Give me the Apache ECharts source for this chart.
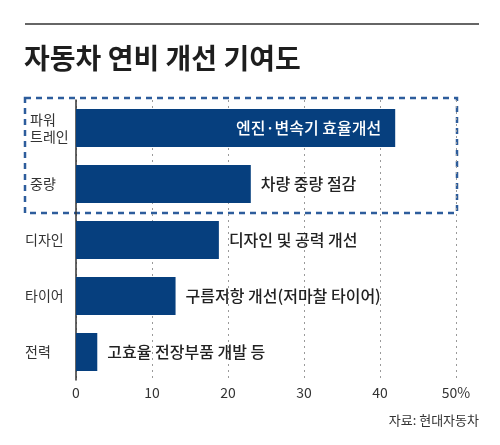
<!DOCTYPE html>
<html>
<head>
<meta charset="utf-8">
<script src="https://cdn.jsdelivr.net/npm/echarts@6/dist/echarts.min.js"></script>
<style>
  html, body { margin: 0; padding: 0; background: #fff; }
  #chart { width: 500px; height: 445px; }
</style>
</head>
<body>
<div id="chart"></div>
<script>
// 자동차 연비 개선 기여도 (%)
const categories = ['파워\n트레인', '중량', '디자인', '타이어', '전력']
const values = [42, 23, 18.8, 13.1, 2.8]
const descs = ['엔진·변속기 효율개선', '차량 중량 절감', '디자인 및 공력 개선', '구름저항 개선(저마찰 타이어)', '고효율 전장부품 개발 등']
const xTicks = [0, 10, 20, 30, 40, 50]

const font = '"Noto Sans CJK KR", "Noto Sans", sans-serif'
const navy = '#063f7e'

let myChart = echarts.init(document.getElementById('chart'))

let option = {
  animation: false,
  textStyle: { fontFamily: font },
  grid: { left: 76, right: 44, top: 100, bottom: 65 },
  xAxis: {
    type: 'value',
    min: xTicks[0],
    max: xTicks[xTicks.length - 1],
    interval: 10,
    axisLine: { show: false },
    axisTick: { show: false },
    splitLine: { lineStyle: { color: '#9a9a9a', type: [2, 4], width: 1 } },
    axisLabel: {
      margin: 6,
      fontSize: 14,
      color: '#333',
      fontFamily: font,
      formatter: v => v === xTicks[xTicks.length - 1] ? v + '%' : String(v)
    }
  },
  yAxis: {
    type: 'category',
    inverse: true,
    data: categories,
    axisLine: { lineStyle: { color: '#333', width: 1.5 } },
    axisTick: { show: false },
    axisLabel: {
      align: 'left',
      margin: 51,
      fontSize: 14,
      lineHeight: 17,
      color: '#333',
      fontFamily: font,
      // the two boxed rows sit a little further right
      formatter: (v, i) => i < 2 ? '{b|' + v.split('\n').join('}\n{b|') + '}' : v,
      rich: { b: { fontSize: 14, lineHeight: 17, color: '#333', padding: [0, 0, 0, 5], fontFamily: font } }
    }
  },
  series: [{
    type: 'bar',
    barWidth: 38,
    itemStyle: { color: navy },
    data: values.map((v, i) => i === 0
      ? { value: v, label: { position: 'insideRight', color: '#fff', distance: 14 } }
      : v),
    label: {
      show: true,
      position: 'right',
      distance: 10,
      fontSize: 16,
      fontWeight: 500,
      color: '#222',
      fontFamily: font,
      formatter: p => descs[p.dataIndex]
    }
  }],
  graphic: [
    { type: 'line', shape: { x1: 25, y1: 24, x2: 479, y2: 24 }, style: { stroke: '#333', lineWidth: 1.5 } },
    { type: 'text', left: 24, top: 44, style: { text: '자동차 연비 개선 기여도', fontSize: 28, fontWeight: 'bold', fill: '#1e1e1e', fontFamily: font } },
    { type: 'rect', shape: { x: 25, y: 98, width: 432, height: 115 }, style: { fill: 'none', stroke: '#2d5d9c', lineWidth: 2.5, lineDash: [6, 5] } },
    { type: 'text', right: 21, top: 414, style: { text: '자료: 현대자동차', fontSize: 13, fill: '#333', fontFamily: font } }
  ]
}

option && myChart.setOption(option)
</script>
</body>
</html>
